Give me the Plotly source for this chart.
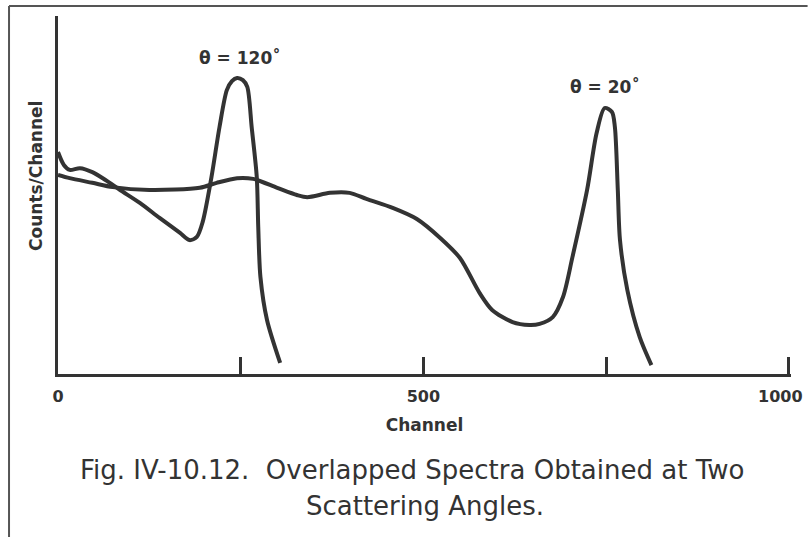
import plotly.graph_objects as go

# Data
ch_120 = [0, 8, 16, 30, 47, 65, 85, 112, 139, 167, 180, 190, 198, 210, 221, 231, 238, 245, 253, 259, 265, 272, 274, 277, 286, 304]
cnt_120 = [62.0, 58.4, 57.0, 57.5, 56.4, 54.2, 51.4, 47.8, 43.6, 39.4, 37.4, 38.3, 42.5, 55.0, 69.0, 79.3, 81.8, 82.7, 82.1, 80.2, 69.0, 55.0, 41.1, 27.1, 15.1, 3.1]

ch_20 = [0, 16, 47, 75, 125, 194, 217, 245, 267, 300, 327, 341, 372, 399, 422, 458, 491, 523, 550, 577, 594, 622, 645, 659, 677, 691, 704, 724, 737, 748, 758, 762, 766, 769, 779, 796, 812]
cnt_20 = [55.6, 54.7, 53.4, 52.2, 51.4, 52.0, 53.4, 54.7, 54.5, 52.0, 50.0, 49.4, 50.6, 50.6, 48.9, 46.4, 43.3, 38.0, 32.4, 22.6, 17.9, 14.5, 13.7, 14.0, 15.9, 21.5, 32.7, 51.4, 67.3, 74.3, 73.2, 69.0, 51.4, 37.4, 23.5, 10.3, 2.5]

tick_vals = [0, 250, 500, 750, 1000]
tick_text = ["0", "", "500", "", "1000"]

ink = "#333333"

fig = go.Figure()
fig.add_trace(go.Scatter(x=ch_120, y=cnt_120, mode="lines",
                         line=dict(color=ink, width=4, shape="spline", smoothing=0.8),
                         showlegend=False))
fig.add_trace(go.Scatter(x=ch_20, y=cnt_20, mode="lines",
                         line=dict(color=ink, width=4, shape="spline", smoothing=0.8),
                         showlegend=False))

bold = dict(family="DejaVu Sans, sans-serif", size=17, color=ink, weight="bold")
tickfont = dict(family="DejaVu Sans, sans-serif", size=16, color=ink, weight="bold")

# plot area in pixels: x 58..791 (0..1003), y 16..374
PW = 733.4

def px(x):
    return (x - 58) / PW

def py(y):
    return (374 - y) / 358.0

fig.update_layout(
    width=808, height=537,
    margin=dict(l=58, r=808 - 58 - PW, t=16, b=163),
    paper_bgcolor="white", plot_bgcolor="white",
    xaxis=dict(range=[0, 1003], showgrid=False, zeroline=False, automargin=False,
               showline=True, linecolor=ink, linewidth=3,
               tickmode="array", tickvals=tick_vals, ticktext=tick_text[:-1] + [""],
               ticks="inside", ticklen=17, tickwidth=3, tickcolor=ink,
               ticklabelstandoff=6,
               tickfont=tickfont,
               title=dict(text="Channel", font=bold, standoff=14)),
    yaxis=dict(range=[0, 100], showgrid=False, zeroline=False, automargin=False,
               showline=True, linecolor=ink, linewidth=3,
               showticklabels=False, ticks=""),
)

# last tick label, kept right-aligned so it stays inside the page
fig.add_annotation(x=tick_vals[-1], y=py(396), xref="x", yref="paper",
                   xanchor="right", yanchor="middle", xshift=16,
                   text=tick_text[-1], showarrow=False, font=tickfont)

fig.add_annotation(x=249, y=88.3, xref="x", yref="y", text="θ = 120˚",
                   showarrow=False, font=bold)
fig.add_annotation(x=749, y=80.2, xref="x", yref="y", text="θ = 20˚",
                   showarrow=False, font=bold)

fig.add_annotation(x=px(36), y=py(176), xref="paper", yref="paper",
                   xanchor="center", yanchor="middle",
                   text="Counts/Channel", textangle=-90, showarrow=False, font=bold)

cap = dict(family="DejaVu Sans, sans-serif", size=26, color=ink)
fig.add_annotation(x=px(412), y=py(470), xref="paper", yref="paper",
                   xanchor="center", yanchor="middle",
                   text="Fig. IV-10.12.  Overlapped Spectra Obtained at Two",
                   showarrow=False, font=cap)
fig.add_annotation(x=px(425), y=py(506), xref="paper", yref="paper",
                   xanchor="center", yanchor="middle",
                   text="Scattering Angles.", showarrow=False, font=cap)

# frame lines
fx = px(9)
fy_top = py(6)
fig.add_shape(type="line", xref="paper", yref="paper", x0=fx, x1=px(808),
              y0=fy_top, y1=fy_top, line=dict(color="#555555", width=2))
fig.add_shape(type="line", xref="paper", yref="paper", x0=fx, x1=fx,
              y0=fy_top, y1=py(537), line=dict(color="#555555", width=2))

fig.write_html("out.html")
